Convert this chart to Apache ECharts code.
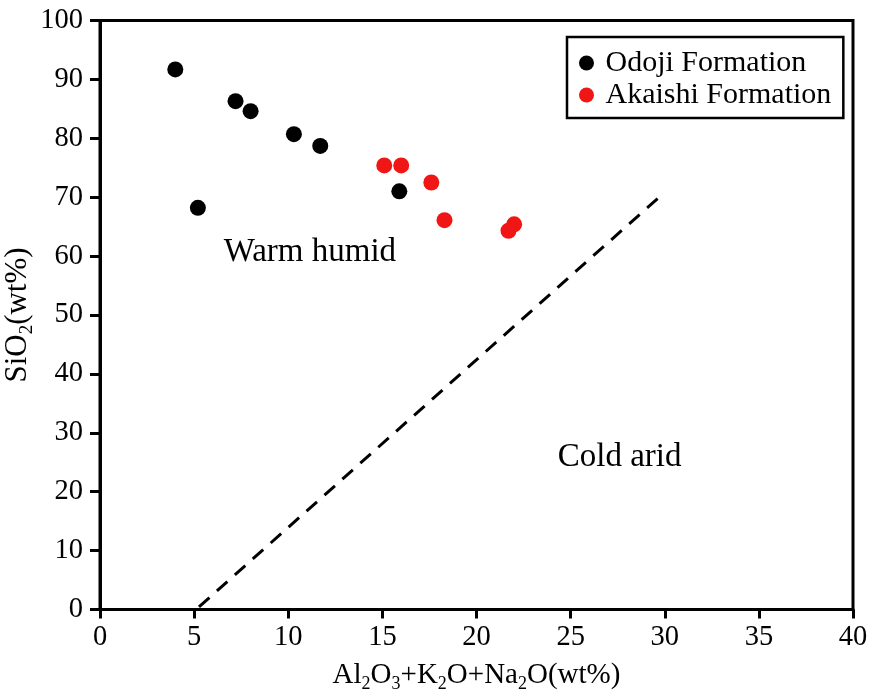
<!DOCTYPE html>
<html>
<head>
<meta charset="utf-8">
<script src="https://cdn.jsdelivr.net/npm/echarts@6/dist/echarts.min.js"></script>
<style>
html,body{margin:0;padding:0;background:#fff;}
#chart{width:873px;height:693px;}
</style>
</head>
<body>
<div id="chart"></div>
<script>
// ---- data ----
const seriesNames = ['Odoji Formation', 'Akaishi Formation'];
const odojiX = [4.0, 7.2, 8.0, 10.3, 11.7, 15.9, 5.2];
const odojiY = [91.7, 86.3, 84.6, 80.7, 78.7, 71.0, 68.2];
const akaishiX = [15.1, 16.0, 17.6, 18.3, 22.0, 21.7];
const akaishiY = [75.4, 75.4, 72.5, 66.1, 65.4, 64.3];
const boundaryX = [5.1, 29.7];
const boundaryY = [0, 70];
const regionNames = ['Warm humid', 'Cold arid'];
const regionX = [11.15, 27.6];
const regionY = [60.7, 25.9];
const xTicks = { min: 0, max: 40, interval: 5 };
const yTicks = { min: 0, max: 100, interval: 10 };

const FONT = "'Liberation Serif', 'Times New Roman', serif";
const zip = (a, b) => a.map((v, i) => [v, b[i]]);

const chart = echarts.init(document.getElementById('chart'), null, { renderer: 'canvas' });
function subRich(size, subSize, drop) {
  return {
    n: { fontFamily: FONT, fontSize: size, color: '#000', lineHeight: 34, verticalAlign: 'bottom' },
    s: { fontFamily: FONT, fontSize: subSize, color: '#000', lineHeight: 34, verticalAlign: 'bottom', padding: [0, 0, -drop, 0] }
  };
}
const option = {
  backgroundColor: '#fff',
  animation: false,
  grid: { left: 100, right: 20, top: 20.5, bottom: 83.5, show: true, borderColor: '#000', borderWidth: 3,
          backgroundColor: 'transparent', containLabel: false, outerBoundsMode: 'none' },
  legend: {
    data: seriesNames,
    orient: 'vertical',
    left: 567, top: 37,
    icon: 'circle',
    itemWidth: 28, itemHeight: 15, itemGap: 2,
    padding: [11, 12, 8, 12],
    borderColor: '#000', borderWidth: 2.5,
    textStyle: { fontFamily: FONT, fontSize: 30, color: '#000' }
  },
  xAxis: {
    type: 'value', min: xTicks.min, max: xTicks.max, interval: xTicks.interval,
    splitLine: { show: false },
    axisLine: { lineStyle: { color: '#000', width: 3 } },
    axisTick: { show: true, inside: false, length: 9, lineStyle: { color: '#000', width: 3 } },
    axisLabel: { fontFamily: FONT, fontSize: 28.5, color: '#000', margin: 14 },
    name: '{n|Al}{s|2}{n|O}{s|3}{n|+K}{s|2}{n|O+Na}{s|2}{n|O(wt%)}',
    nameLocation: 'middle', nameGap: 46, nameMoveOverlap: false,
    nameTextStyle: { rich: subRich(29, 18, 4) }
  },
  yAxis: {
    type: 'value', min: yTicks.min, max: yTicks.max, interval: yTicks.interval,
    splitLine: { show: false },
    axisLine: { lineStyle: { color: '#000', width: 3 } },
    axisTick: { show: true, inside: false, length: 10, lineStyle: { color: '#000', width: 3 } },
    axisLabel: { fontFamily: FONT, fontSize: 28.5, color: '#000', margin: 17 },
    name: '{n|SiO}{s|2}{n|(wt%)}',
    nameLocation: 'middle', nameGap: 67, nameMoveOverlap: false,
    nameTextStyle: { rich: subRich(31, 19, 4) }
  },
  series: [
    {
      name: seriesNames[0], type: 'scatter', symbol: 'circle', symbolSize: 16,
      itemStyle: { color: '#000', opacity: 1 },
      data: zip(odojiX, odojiY), z: 3
    },
    {
      name: seriesNames[1], type: 'scatter', symbol: 'circle', symbolSize: 16,
      itemStyle: { color: '#f01616', opacity: 1 },
      data: zip(akaishiX, akaishiY), z: 3
    },
    {
      name: 'boundary', type: 'line', symbol: 'none',
      lineStyle: { color: '#000', width: 3, type: [14, 10], dashOffset: 20 },
      data: zip(boundaryX, boundaryY), z: 2, silent: true
    }
  ]
};
chart.setOption(option);
// region labels placed at data coordinates through the axes
chart.setOption({
  graphic: regionNames.map((n, i) => {
    const p = chart.convertToPixel({ gridIndex: 0 }, [regionX[i], regionY[i]]);
    return {
      type: 'text', x: p[0], y: p[1], silent: true,
      style: { text: n, fontFamily: FONT, fontSize: 33, fill: '#000', align: 'center', verticalAlign: 'middle' }
    };
  })
});
</script>
</body>
</html>
